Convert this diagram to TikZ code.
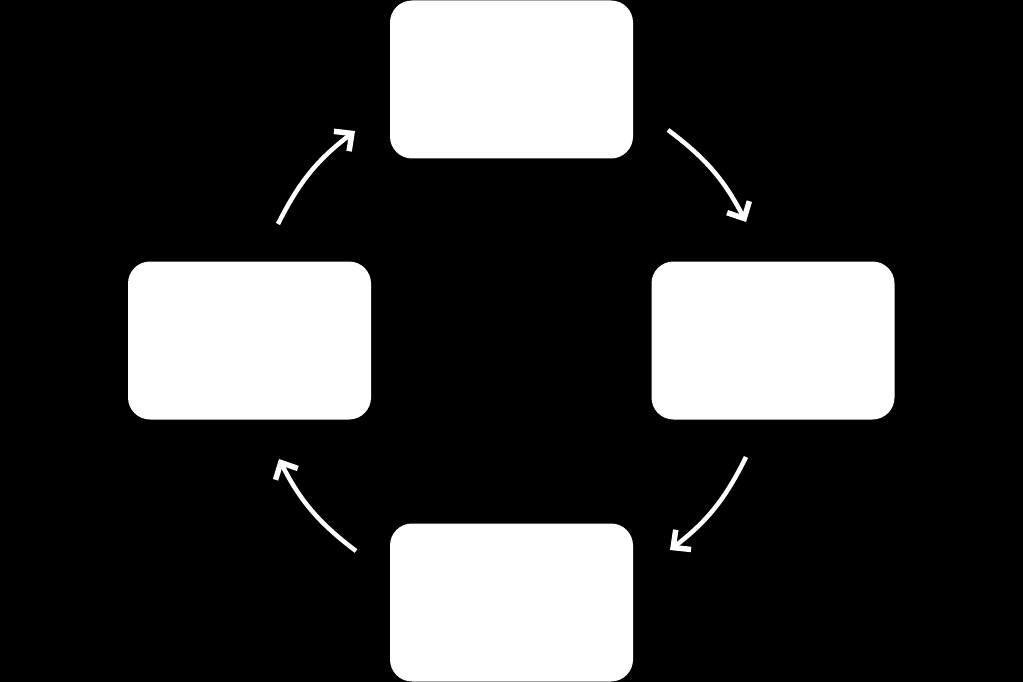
\documentclass[tikz,border=0pt]{standalone}
\usetikzlibrary{arrows.meta}
\begin{document}
\begin{tikzpicture}[x=1pt,y=-1pt,
  stagebox/.style={fill=white, rounded corners=22pt, minimum width=243pt, minimum height=158pt, inner sep=0pt},
  cyclearrow/.style={draw=white, line width=4.5pt, -{Straight Barb[length=13pt,width=25pt,line width=5.5pt]}}]
\useasboundingbox (0,0) rectangle (1023,682);
\fill[black] (0,0) rectangle (1023,682);
\node[stagebox] (top) at (511.5,79.5) {};
\node[stagebox] (left) at (249.5,340.5) {};
\node[stagebox] (right) at (773,340.5) {};
\node[stagebox] (bottom) at (511.5,602.5) {};
\coordinate (a1s) at (278,224);
\coordinate (a1e) at (355,131);
\coordinate (a2s) at (668,130);
\coordinate (a2e) at (746,222);
\coordinate (a3s) at (746,457);
\coordinate (a3e) at (670,550);
\coordinate (a4s) at (356,551);
\coordinate (a4e) at (279,459);
\draw[cyclearrow] (a1s) to[bend left=13] (a1e);
\draw[cyclearrow] (a2s) to[bend left=13] (a2e);
\draw[cyclearrow] (a3s) to[bend left=13] (a3e);
\draw[cyclearrow] (a4s) to[bend left=13] (a4e);
\end{tikzpicture}
\end{document}
